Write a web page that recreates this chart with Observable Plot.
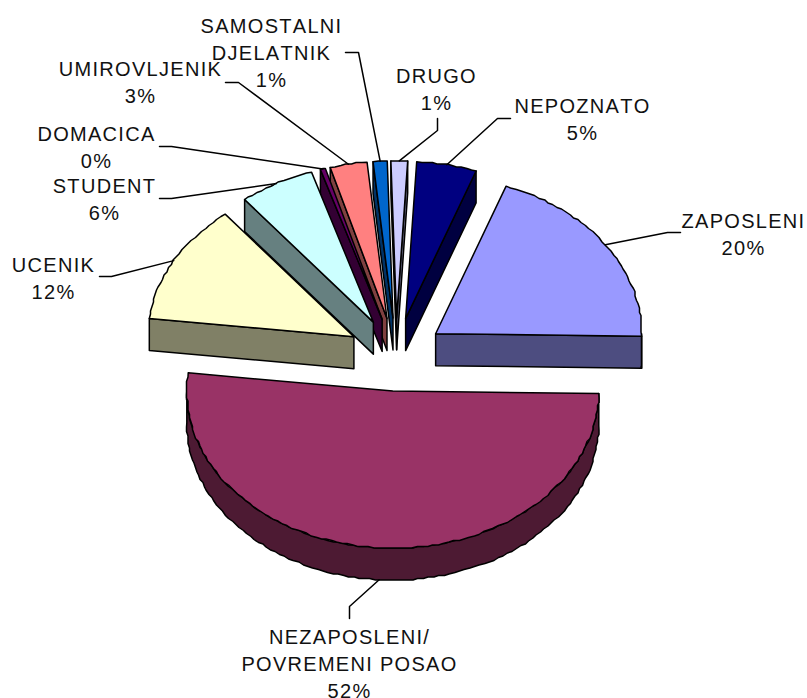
<!DOCTYPE html>
<html>
<head>
<meta charset="utf-8">
<script src="https://cdn.jsdelivr.net/npm/d3@7"></script>
<script src="https://cdn.jsdelivr.net/npm/@observablehq/plot@0.6"></script>
<style>html,body{margin:0;padding:0;background:#fff}svg{display:block}</style>
</head>
<body>
<div id="chart"></div>
<script>
const categories = ["ZAPOSLENI","NEZAPOSLENI/\nPOVREMENI POSAO","UCENIK","STUDENT","DOMACICA","UMIROVLJENIK","SAMOSTALNI\nDJELATNIK","DRUGO","NEPOZNATO"];
const shares = [19.7, 51.6, 12.4, 5.9, 0.4, 2.9, 1.1, 1.3, 4.7];
const faceColors = ["#9999ff","#993366","#ffffcc","#ccffff","#660066","#ff8080","#0066cc","#ccccff","#000080"];
const wallColors = ["#4d4d80","#4d1a33","#808066","#668080","#330033","#804040","#003366","#666680","#000040"];
// paint order, back to front
const paintOrder = [0,1,8,7,6,5,4,3,2];
// label centre x / first-line top y
const labelX = [743,349,53,104,96,140,271,436,582];
const labelY = [208,624,252,173,121,56,13,63,93];
// leader line: outer end and elbow
const leaderStart = [[680,232],[349,618],[99,276],[159,198],[159,146],[225,82],[345,52],[437,118],[510,118]];
const leaderElbow = [[667,232],[349,606],[111,276],[171,198],[171,146],[238,82],[358,52],[437,130],[497,118]];

// pie geometry
const cx = 395.5, cy = 354, rx = 206, ry = 157, depth = 32, explode = 0.2336;
const startDeg = 20;
const rad = Math.PI / 180;
const grid = 1.5; // the source's coarse outline steps

const arcs = d3.pie().value(d => d).sort(null)
  .startAngle(startDeg * rad).endAngle((startDeg + 360) * rad)(shares);

function arcRange(a0, a1) {
  const n = Math.max(2, Math.ceil((a1 - a0) / (1.5 * rad)));
  return d3.range(n + 1).map(i => a0 + (a1 - a0) * i / n);
}
const snap = p => ({x: Math.round(p.x / grid) * grid, y: Math.round(p.y / grid) * grid});
const marks = [];
const leaders = [];
paintOrder.forEach(i => {
  const {startAngle: a0, endAngle: a1} = arcs[i];
  const mid = (a0 + a1) / 2;
  const ax = cx + explode * rx * Math.sin(mid);
  const ay = cy - explode * ry * Math.cos(mid);
  const pt = a => ({x: ax + rx * Math.sin(a), y: ay - ry * Math.cos(a)});
  const outline = (lo, hi) => arcRange(lo, hi).map((a, k, all) => k === 0 || k === all.length - 1 ? pt(a) : snap(pt(a)));
  const apex = {x: ax, y: ay};
  const down = p => ({x: p.x, y: p.y + depth});
  const fill = wallColors[i];
  const wall = pts => marks.push(Plot.line(pts, {x: "x", y: "y", fill, stroke: "#000", strokeWidth: 1.5, curve: "linear-closed", strokeLinejoin: "round"}));
  if (Math.sin(a0) < 0) wall([apex, pt(a0), down(pt(a0)), down(apex)]);
  if (Math.sin(a1) > 0) wall([apex, pt(a1), down(pt(a1)), down(apex)]);
  // outer wall over the lower half
  const lo = Math.max(a0, 90 * rad), hi = Math.min(a1, 270 * rad);
  if (hi > lo) {
    const top = outline(lo, hi);
    wall([...top, ...top.slice().reverse().map(down)]);
  }
  marks.push(Plot.line([apex, ...outline(a0, a1)], {x: "x", y: "y", fill: faceColors[i], stroke: "#000", strokeWidth: 1.5, curve: "linear-closed", strokeLinejoin: "round"}));
  // leader
  const end = pt(mid);
  if (Math.cos(mid) < 0) end.y += depth;
  leaders.push([leaderStart[i], leaderElbow[i], [end.x, end.y]].map(([x, y]) => ({x, y})));
});

const labels = categories.map((c, i) => ({text: `${c}\n${Math.round(shares[i])}%`, x: labelX[i], y: labelY[i]}));

const plot = Plot.plot({
  width: 807, height: 698,
  margin: 0,
  style: {letterSpacing: "1.3px", fontKerning: "none", background: "#fff"},
  x: {domain: [0, 807], range: [0, 807], axis: null},
  y: {domain: [0, 698], range: [0, 698], axis: null},
  marks: [
    ...marks,
    ...leaders.map(l => Plot.line(l, {x: "x", y: "y", stroke: "#000", strokeWidth: 1.5, curve: "linear"})),
    Plot.text(labels, {x: "x", y: "y", text: "text", lineAnchor: "top", textAnchor: "middle", lineHeight: 1.35, fontSize: 20, fontFamily: "Liberation Sans", fill: "#111"})
  ]
});
document.getElementById("chart").appendChild(plot);
</script>
</body>
</html>
